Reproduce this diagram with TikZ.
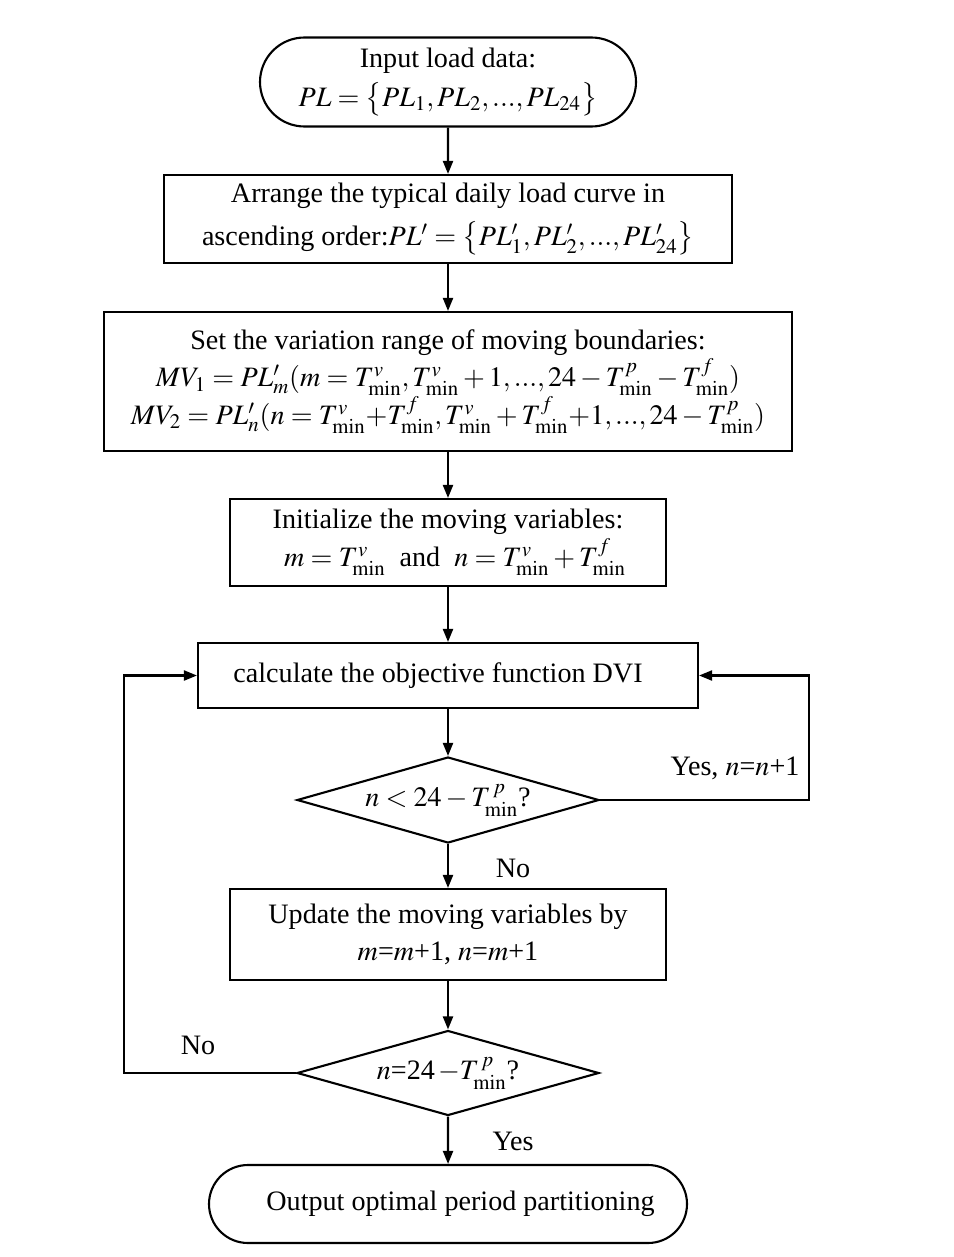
\documentclass[tikz,border=0pt]{standalone}
\usepackage{amsmath}
\usepackage{mathptmx}
\usepackage{fontspec}
\setmainfont{Liberation Serif}
\usepackage{tikz}
\usetikzlibrary{arrows.meta,positioning,shapes.geometric,shapes.misc}

\tikzset{
  procbox/.style={draw,line width=1.2pt,rectangle,align=center,inner sep=0pt},
  termbox/.style={draw,line width=1.2pt,rounded rectangle,align=center,inner sep=0pt},
  decbox/.style={draw,line width=1.2pt,diamond,aspect=3.5,inner sep=0pt},
  flow/.style={line width=1.2pt,-{Triangle[length=0.26cm,width=0.2cm]}},
}

\begin{document}
\begin{tikzpicture}[font=\fontsize{16}{21.5}\selectfont]
\useasboundingbox (0,0) rectangle (19.08,-25.14);
% main column
\node[termbox,minimum width=7.52cm,minimum height=1.78cm] (start) at (8.96,-1.64)
  {Input load data:\\[1pt] $PL=\bigl\{PL_1,PL_2,...,PL_{24}\bigr\}$};
\node[procbox,minimum width=11.36cm,minimum height=1.76cm] (sortbox) at (8.96,-4.38)
  {Arrange the typical daily load curve in\\[3pt] ascending order:$PL'=\bigl\{PL_1',PL_2',...,PL_{24}'\bigr\}$};
\node[procbox,minimum width=13.76cm,minimum height=2.78cm] (rangebox) at (8.96,-7.63)
  {Set the variation range of moving boundaries:\\
   $MV_1=PL_m'(m=T^{v}_{\min},T^{v}_{\min}+1,...,24-T^{p}_{\min}-T^{f}_{\min})$\\
   $MV_2=PL_n'(n=T^{v}_{\min}{+}T^{f}_{\min},T^{v}_{\min}+T^{f}_{\min}{+}1,...,24-T^{p}_{\min})$};
\node[procbox,minimum width=8.72cm,minimum height=1.74cm] (initbox) at (8.96,-10.85)
  {Initialize the moving variables:\\ \ \ $m=T^{v}_{\min}$ \ and \ $n=T^{v}_{\min}+T^{f}_{\min}$};
\node[procbox,minimum width=10cm,minimum height=1.30cm] (calcbox) at (8.96,-13.51)
  {calculate the objective function DVI\hspace{0.4cm}};
\node[decbox,minimum width=6.04cm,minimum height=1.72cm] (testn) at (8.96,-16.0)
  {$n<24-T^{\,p}_{\min}$?};
\node[procbox,minimum width=8.72cm,minimum height=1.82cm] (updbox) at (8.96,-18.69)
  {Update the moving variables by\hspace{0.3cm}\\ $m$=$m$+1, $n$=$m$+1};
\node[decbox,minimum width=6.04cm,minimum height=1.70cm] (testend) at (8.96,-21.46)
  {$n$=24$\,-T^{\,p}_{\min}$?};
\node[termbox,minimum width=9.56cm,minimum height=1.56cm] (stop) at (8.96,-24.08)
  {\hspace{0.5cm}Output optimal period partitioning};
% loop corners
\coordinate (rloop) at (16.18,-13.51);
\coordinate (lloop) at (2.48,-13.51);
% connectors
\draw[flow] (start) -- (sortbox);
\draw[flow] (sortbox) -- (rangebox);
\draw[flow] (rangebox) -- (initbox);
\draw[flow] (initbox) -- (calcbox);
\draw[flow] (calcbox) -- (testn);
\draw[flow] (testn) -- (updbox);
\draw[flow] (updbox) -- (testend);
\draw[flow] (testend) -- (stop);
\draw[flow] (testn.east) -| (rloop) -- (calcbox.east);
\draw[flow] (testend.west) -| (lloop) -- (calcbox.west);
% labels
\node (lblyes1) at (14.7,-15.36) {Yes, $n$=$n$+1};
\node (lblno1) at (10.26,-17.36) {No};
\node (lblno2) at (3.96,-20.9) {No};
\node (lblyes2) at (10.26,-22.82) {Yes};
\end{tikzpicture}
\end{document}
